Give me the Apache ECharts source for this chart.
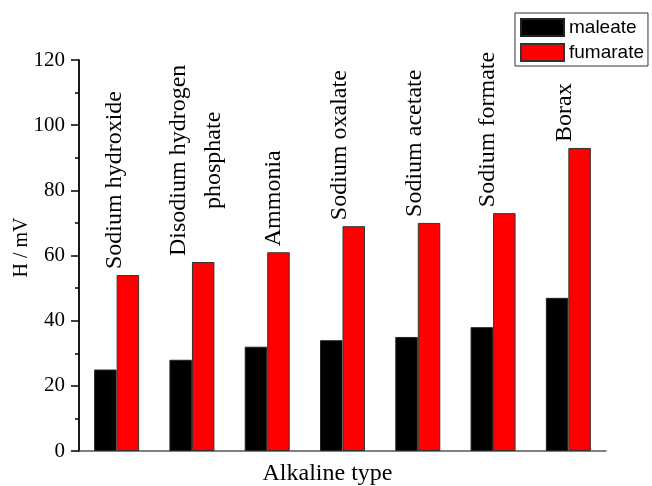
<!DOCTYPE html>
<html>
<head>
<meta charset="utf-8">
<script src="https://cdn.jsdelivr.net/npm/echarts@6/dist/echarts.min.js"></script>
<style>html,body{margin:0;padding:0;background:#fff}#c{width:652px;height:486px}</style>
</head>
<body>
<div id="c"></div>
<script>
var categories = ['Sodium hydroxide', 'Disodium hydrogen\nphosphate', 'Ammonia', 'Sodium oxalate', 'Sodium acetate', 'Sodium formate', 'Borax'];
var maleate = [25, 28, 32, 34, 35, 38, 47];
var fumarate = [54, 58, 61, 69, 70, 73, 93];
var yTicks = [0, 20, 40, 60, 80, 100, 120];

var SERIF = '"Liberation Serif", "Times New Roman", serif';
var SANS = '"Liberation Sans", Arial, sans-serif';
var labelFontSize = 24;
var labelFont = labelFontSize + 'px ' + SERIF;
var labelNudge = [-2, 4, 6, -3, -3, -5, -4];

var measureCtx = document.createElement('canvas').getContext('2d');
measureCtx.font = labelFont;
function textLen(t) {
  return Math.max.apply(null, t.split('\n').map(function (s) { return measureCtx.measureText(s).width; }));
}

var chart = echarts.init(document.getElementById('c'), null, { renderer: 'canvas' });
chart.setOption({
  backgroundColor: '#fff',
  animation: false,
  grid: { left: 79, right: 46, top: 60, bottom: 35, containLabel: false, outerBoundsMode: 'none' },
  legend: {
    orient: 'vertical',
    left: 515, top: 13,
    padding: [5, 4, 4, 5],
    itemWidth: 43, itemHeight: 17, itemGap: 6,
    borderColor: '#333', borderWidth: 1,
    backgroundColor: '#fff',
    textStyle: { fontFamily: SANS, fontSize: 19, color: '#000', lineHeight: 17, padding: [0, 0, 0, 0] },
    icon: 'rect',
    data: ['maleate', 'fumarate']
  },
  xAxis: {
    type: 'category',
    data: categories,
    name: 'Alkaline type',
    nameLocation: 'middle',
    nameGap: 11,
    nameMoveOverlap: false,
    nameTextStyle: { fontFamily: SERIF, fontSize: 24, color: '#000', padding: [0, 30, 0, 0] },
    axisLine: { lineStyle: { color: '#555', width: 1.5 } },
    axisTick: { show: false },
    axisLabel: { show: false },
    splitLine: { show: false }
  },
  yAxis: {
    type: 'value',
    min: yTicks[0], max: yTicks[yTicks.length - 1], interval: yTicks[1] - yTicks[0],
    name: 'H / mV',
    nameLocation: 'middle',
    nameGap: 47,
    nameMoveOverlap: false,
    nameTextStyle: { fontFamily: SERIF, fontSize: 20, color: '#000', padding: [0, 0, 0, 16] },
    axisLine: { show: true, lineStyle: { color: '#000', width: 1.8 } },
    axisTick: { show: true, length: 8, lineStyle: { color: '#000', width: 1.5 } },
    minorTick: { show: true, splitNumber: 2, length: 4, lineStyle: { color: '#000', width: 1.5 } },
    axisLabel: { fontFamily: SERIF, fontSize: 21, color: '#000', margin: 14 },
    splitLine: { show: false }
  },
  series: [
    {
      name: 'maleate', type: 'bar', data: maleate,
      barWidth: 22.5, barGap: '0%',
      itemStyle: { color: '#000', borderColor: '#222', borderWidth: 1 }
    },
    {
      name: 'fumarate', type: 'bar', data: fumarate,
      barWidth: 22.5, barGap: '0%',
      itemStyle: { color: '#ff0000', borderColor: '#333', borderWidth: 1 }
    },
    {
      type: 'custom',
      silent: true,
      data: fumarate.map(function (v, i) { return [i, v]; }),
      renderItem: function (params, api) {
        var i = api.value(0);
        var base = api.coord([i, 0]);
        var top = api.coord([i, api.value(1)]);
        var text = categories[i];
        var len = textLen(text);
        return {
          type: 'text',
          x: base[0] + labelNudge[i],
          y: top[1] - 6 - len / 2,
          rotation: Math.PI / 2,
          style: {
            text: text,
            font: labelFont,
            fill: '#000',
            align: 'center',
            verticalAlign: 'middle',
            lineHeight: 35
          }
        };
      },
      z: 5
    }
  ]
});
</script>
</body>
</html>
